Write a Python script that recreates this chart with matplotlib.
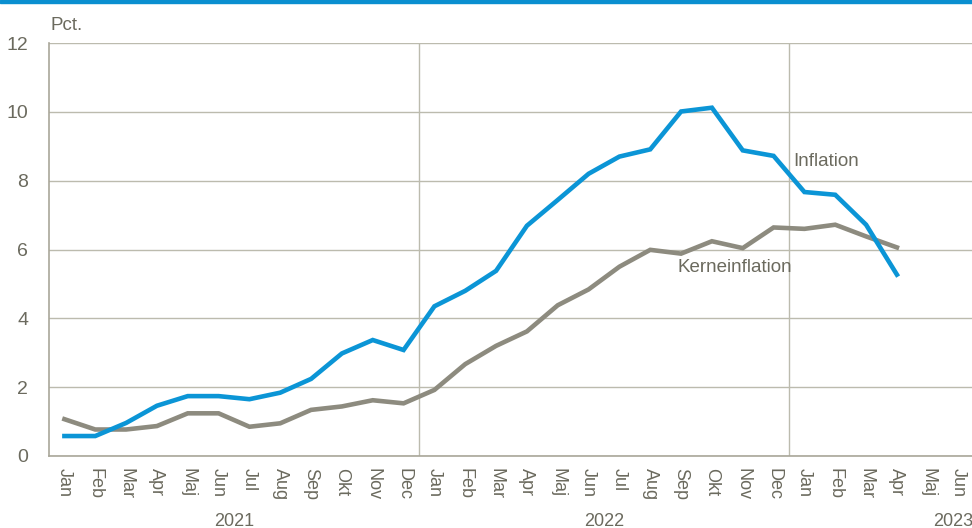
import matplotlib
matplotlib.use("Agg")
import matplotlib.pyplot as plt
from matplotlib.patches import Rectangle

# Data: yearly change in consumer prices, pct.
months = ["Jan", "Feb", "Mar", "Apr", "Maj", "Jun", "Jul", "Aug", "Sep", "Okt", "Nov", "Dec"] * 2 + \
         ["Jan", "Feb", "Mar", "Apr", "Maj", "Jun"]
years = ["2021", "2022", "2023"]
inflation = [0.58, 0.58, 0.96, 1.46, 1.74, 1.74, 1.65, 1.84, 2.24, 2.98, 3.37, 3.08,
             4.35, 4.8, 5.38, 6.69, 7.44, 8.2, 8.7, 8.91, 10.01, 10.12, 8.88, 8.72,
             7.67, 7.59, 6.72, 5.27]
kerneinflation = [1.07, 0.77, 0.77, 0.87, 1.24, 1.24, 0.85, 0.95, 1.34, 1.44, 1.62, 1.53,
                  1.92, 2.67, 3.2, 3.62, 4.38, 4.84, 5.5, 5.99, 5.88, 6.24, 6.04, 6.64,
                  6.6, 6.72, 6.38, 6.06]

textcol = "#6b6a5e"
gridcol = "#bcbbae"
blue = "#0b95d6"
grey = "#8d8b7f"
font = ["Liberation Sans", "DejaVu Sans"]

fig = plt.figure(figsize=(9.72, 5.28), dpi=100)
ax = fig.add_axes([49 / 972, 1 - 456 / 528, 925 / 972, 413 / 528])

x = list(range(len(inflation)))
ax.plot(x, kerneinflation, color=grey, lw=3.3, solid_joinstyle="miter", zorder=3)
ax.plot(x, inflation, color=blue, lw=3.3, solid_joinstyle="miter", zorder=4)

ax.set_xlim(-0.5, len(months) - 0.5)
ax.set_ylim(0, 12)
ax.set_yticks(range(0, 13, 2))
ax.set_yticklabels([str(v) for v in range(0, 13, 2)], fontsize=14, color=textcol, family=font)
ax.set_xticks(range(len(months)))
ax.set_xticklabels(months, rotation=-90, fontsize=13, color=textcol, family=font, va="top", ha="center")
ax.tick_params(axis="both", length=0)
ax.tick_params(axis="y", pad=15)
ax.tick_params(axis="x", pad=9)

ax.yaxis.grid(True, color=gridcol, lw=1)
for xv in [11.5, 23.5]:
    ax.axvline(xv, color=gridcol, lw=1, zorder=1)
ax.set_axisbelow(True)
for s in ["top", "right"]:
    ax.spines[s].set_visible(False)
for s in ["left", "bottom"]:
    ax.spines[s].set_color("#a9a799")
    ax.spines[s].set_linewidth(1.2)

# year labels under the month labels
ax.text(5.5, -1.65, years[0], ha="center", va="top", fontsize=13, color=textcol, family=font)
ax.text(17.5, -1.65, years[1], ha="center", va="top", fontsize=13, color=textcol, family=font)
ax.text(28.17, -1.65, years[2], ha="left", va="top", fontsize=13, color=textcol, family=font)

ax.text(23.65, 8.55, "Inflation", fontsize=13.5, color=textcol, family=font, va="center")
ax.text(19.88, 5.47, "Kerneinflation", fontsize=13.5, color=textcol, family=font, va="center")

fig.text(50 / 972, 1 - 25 / 528, "Pct.", fontsize=13.5, color=textcol, family=font, va="center")

# blue band along the top edge
fig.patches.append(Rectangle((0, 1 - 3 / 528), 1, 3 / 528, transform=fig.transFigure,
                             color="#0a8fd0", zorder=5))

fig.savefig("out.png", dpi=100)
